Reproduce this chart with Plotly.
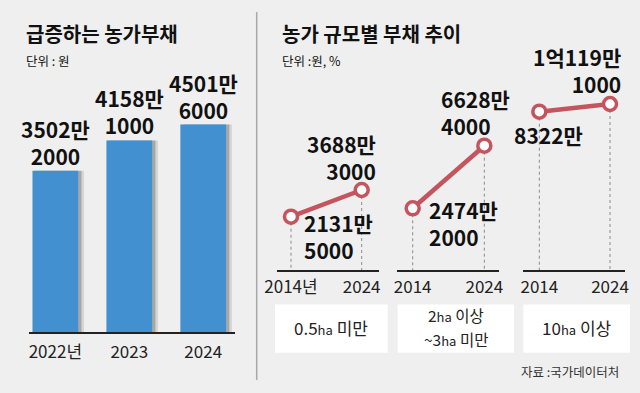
import plotly.graph_objects as go

# ---------------- data ----------------
bar_years = ["2022년", "2023", "2024"]
bar_values_won = [35022000, 41581000, 45016000]

HA = "<span style='font-size:13px'>ha</span>"
panel_name_lines = [[f"0.5{HA} 미만"],
                    [f"2{HA} 이상", f"~3{HA} 미만"],
                    [f"10{HA} 이상"]]
line_years = [2014, 2024]
line_ticktext = [["2014년", "2024"], ["2014", "2024"], ["2014", "2024"]]
small_farm_won = [21315000, 36883000]
mid_farm_won = [24742000, 66284000]
large_farm_won = [83220000, 101191000]
line_values_won = [small_farm_won, mid_farm_won, large_farm_won]

title_left = "급증하는 농가부채"
unit_left = "단위 : 원"
title_right = "농가 규모별 부채 추이"
unit_right = "단위 :원, %"
source_text = "자료 :국가데이터처"

# ---------------- style ----------------
FONT = "Noto Sans CJK KR"
BG = "#efefef"
BAR_C = "#4390d0"
LINE_C = "#c4545e"
W, H = 640, 393
LBL = 21


def px(x):
    return x / W


def py(y):
    return 1 - y / H


def label_text(v):
    eok = v // 100000000
    man = (v % 100000000) // 10000
    rest = v % 10000
    l1 = (f"{eok}억" if eok else "") + f"{man}만"
    return l1 + ("<br>" + str(rest) if rest else "")


fig = go.Figure()

# bars (shadow layers + main)
bw = 0.618
bar_vals = [v / 10000 for v in bar_values_won]
idx = list(range(len(bar_years)))
fig.add_trace(go.Bar(x=idx, y=bar_vals, width=bw + 0.07, offset=-bw / 2 + 0.01,
                     marker=dict(color="rgba(0,0,0,0.10)", line=dict(width=0)),
                     xaxis="x", yaxis="y", hoverinfo="skip"))
fig.add_trace(go.Bar(x=idx, y=bar_vals, width=bw, offset=-bw / 2 + 0.045,
                     marker=dict(color="rgba(0,0,0,0.22)", line=dict(width=0)),
                     xaxis="x", yaxis="y", hoverinfo="skip"))
fig.add_trace(go.Bar(x=idx, y=bar_vals, width=bw, offset=-bw / 2,
                     marker=dict(color=BAR_C, line=dict(width=0)),
                     xaxis="x", yaxis="y"))

annotations = []
for i, v in enumerate(bar_values_won):
    annotations.append(dict(x=i, y=v / 10000, xref="x", yref="y", text=label_text(v),
                            showarrow=False, yshift=-2, xanchor="center", yanchor="bottom",
                            font=dict(family=FONT, size=LBL, color="#111", weight="bold")))

# line panels
x_domains = [(277, 379), (397, 499), (523, 625)]
x_ranges = [(2012.02, 2026.45), (2011.81, 2026.05), (2011.69, 2026.12)]
y_ranges = [(-993.9, 10102), (-1640.2, 10988), (-28693, 15721)]
# label placement per point: (xanchor, xshift, yanchor, yshift)
label_style = [
    [("left", 11, "top", 11), ("right", 16, "bottom", 2)],
    [("left", 14, "top", 15), ("left", -45, "bottom", 3)],
    [("center", 9.4, "top", -6), ("right", 13, "bottom", 3)],
]
shapes = []
for p in range(3):
    ax = p + 2
    xa = f"x{ax}"
    ya = f"y{ax}"
    vals = [v / 10000 for v in line_values_won[p]]
    for xv, yv in zip(line_years, vals):
        shapes.append(dict(type="line", xref=xa, yref=ya, x0=xv, x1=xv, y0=yv, y1=y_ranges[p][0],
                           line=dict(color="#8a8a8a", width=1, dash="3px,3px"), layer="below"))
    fig.add_trace(go.Scatter(x=line_years, y=vals, mode="lines+markers", xaxis=xa, yaxis=ya,
                             line=dict(color=LINE_C, width=4.5),
                             marker=dict(size=13, color="white", line=dict(color=LINE_C, width=3.5)),
                             cliponaxis=False))
    for k, v in enumerate(line_values_won[p]):
        xanc, xs, yanc, ys = label_style[p][k]
        annotations.append(dict(x=line_years[k], y=v / 10000, xref=xa, yref=ya, text=label_text(v),
                                showarrow=False, xanchor=xanc, yanchor=yanc, align=xanc,
                                xshift=xs, yshift=ys,
                                font=dict(family=FONT, size=LBL, color="#111", weight="bold")))

# category boxes
boxes = [(275, 387.7), (397.7, 514), (523.3, 630)]
for (x0, x1), lines in zip(boxes, panel_name_lines):
    shapes.append(dict(type="rect", xref="paper", yref="paper", x0=px(x0), x1=px(x1),
                       y0=py(352.7), y1=py(304.5), fillcolor="white", line=dict(width=0)))
    n = len(lines)
    for j, t in enumerate(lines):
        yc = 327 + (j - (n - 1) / 2) * 24
        annotations.append(dict(x=px((x0 + x1) / 2), y=py(yc), xref="paper", yref="paper",
                                text=t, showarrow=False, xanchor="center", yanchor="middle",
                                borderpad=0,
                                font=dict(family=FONT, size=17 if n == 1 else 15.5, color="#222")))

# separator
shapes.append(dict(type="line", xref="paper", yref="paper", x0=px(256.7), x1=px(256.7),
                   y0=py(380), y1=py(12), line=dict(color="#a8a8a8", width=1.5)))

# titles
for txt, x, y, size, bold in [(title_left, 24, 33, 20, True), (unit_left, 24, 60, 12.5, False),
                              (title_right, 280, 33, 20, True), (unit_right, 280, 60, 12.5, False)]:
    annotations.append(dict(x=px(x), y=py(y), xref="paper", yref="paper", text=txt, showarrow=False,
                            xanchor="left", yanchor="middle",
                            font=dict(family=FONT, size=size, color="#111",
                                      weight="bold" if bold else "normal")))
annotations.append(dict(x=px(621), y=py(371.5), xref="paper", yref="paper", text=source_text,
                        showarrow=False, xanchor="right", yanchor="middle",
                        font=dict(family=FONT, size=12.5, color="#333")))

layout = dict(
    width=W, height=H, autosize=False, margin=dict(l=0, r=0, t=0, b=0, pad=0, autoexpand=False),
    paper_bgcolor=BG, plot_bgcolor="rgba(0,0,0,0)",
    showlegend=False, barmode="overlay",
    xaxis=dict(domain=[px(29.3), px(235)], range=[-0.352, 2.43], tickmode="array",
               tickvals=idx, ticktext=bar_years, showline=True, linecolor="#222", linewidth=1.5,
               showgrid=False, zeroline=False, ticks="", ticklabelstandoff=4, automargin=False,
               tickfont=dict(family=FONT, size=17, color="#222"), anchor="y", fixedrange=True),
    yaxis=dict(domain=[py(332.3), py(70)], range=[0, 5685], visible=False, anchor="x",
               automargin=False),
    shapes=shapes, annotations=annotations,
)
for p in range(3):
    ax = p + 2
    layout[f"xaxis{ax}"] = dict(domain=[px(x_domains[p][0]), px(x_domains[p][1])],
                                range=list(x_ranges[p]), tickmode="array", tickvals=line_years,
                                ticktext=line_ticktext[p], showline=True, linecolor="#222",
                                linewidth=1.5, showgrid=False, zeroline=False, ticks="",
                                ticklabelstandoff=1, automargin=False,
                                tickfont=dict(family=FONT, size=17, color="#222"),
                                anchor=f"y{ax}")
    layout[f"yaxis{ax}"] = dict(domain=[py(270.3), py(80)], range=list(y_ranges[p]),
                                visible=False, anchor=f"x{ax}", automargin=False)

fig.update_layout(**layout)
fig.write_html("out.html", config={"displayModeBar": False},
               post_script="document.body.style.margin='0';")
